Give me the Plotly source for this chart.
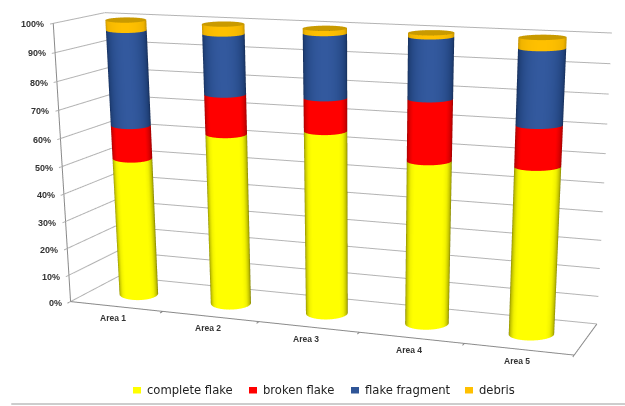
import numpy as np
import plotly.graph_objects as go

areas = ["Area 1", "Area 2", "Area 3", "Area 4", "Area 5"]
complete_flake = [51, 62, 65.3, 57.4, 58]
broken_flake = [12, 14, 11.4, 20.9, 13.7]
flake_fragment = [33.5, 20.7, 21.6, 20.4, 24.8]
debris = [3.5, 3.3, 1.7, 1.3, 3.5]
z_ticks = [0, 10, 20, 30, 40, 50, 60, 70, 80, 90, 100]

series = [
    ("complete flake", complete_flake, "#ffff00", [[0, "#6c6c00"], [0.3, "#b4b400"], [0.62, "#f2f200"], [0.78, "#ffff00"], [1, "#ffff00"]]),
    ("broken flake", broken_flake, "#ff0000", [[0, "#8c0000"], [0.35, "#c80000"], [0.7, "#ff0000"], [1, "#ff0000"]]),
    ("flake fragment", flake_fragment, "#2f5597", [[0, "#12264a"], [0.4, "#1f3f76"], [0.8, "#2c5192"], [1, "#33599e"]]),
    ("debris", debris, "#ffc000", [[0, "#b08400"], [0.5, "#f0b400"], [1, "#ffc000"]]),
]
CAP_COLOR = "#c99a00"

Y_LO = -0.06
W, H = 625, 406
FOCAL = (1 / np.tan(np.pi / 8)) * H / 2

# Oblique view: where the plot-box corners should land on the page
box_corners = np.array([[0,0,0],[5,0,0],[5,1,0],[0,1,0],[0,0,100],[0,1,100],[5,1,100]], float)
page_corners = np.array([[70,302],[574,355],[597,324],[119,276],[54,23],[104,13],[612,33]], float)

# Direct linear solve for the 3x4 projection
NORM = np.diag([1 / 5, 1, 1 / 100, 1])
rows = []
for (x, y, z), (u, v) in zip(box_corners, page_corners):
    h = np.array([x / 5, y, z / 100, 1])
    u2, v2 = (u - W / 2) / FOCAL, -(v - H / 2) / FOCAL
    rows.append(np.r_[h, 0 * h, -u2 * h])
    rows.append(np.r_[0 * h, h, -v2 * h])
P = np.linalg.svd(np.array(rows))[2][-1].reshape(3, 4) @ NORM
P = P * (1.8 / (P[2] @ np.array([2.5, 0.5, 50, 1])))

def to_plot(x, y, z):
    h = np.stack([np.asarray(x, float), np.asarray(y, float), np.asarray(z, float), np.ones_like(np.asarray(x, float))], -1)
    cam = h @ P.T
    return cam[..., 0], cam[..., 2], cam[..., 1]

def page_xy(x, y, z):
    px, py, pz = to_plot(x, y, z)
    return np.array([W / 2 + FOCAL * px / py, H / 2 - FOCAL * pz / py])

gx, gy, gz = np.meshgrid([0, 5], [Y_LO, 1], [0, 100], indexing="ij")
bx, by, bz = to_plot(gx.ravel(), gy.ravel(), gz.ravel())
x_range = [float(bx.min()), float(bx.max())]
y_range = [float(by.min()), float(by.max())]
z_range = [float(bz.min()), float(bz.max())]
box_mid = np.array([sum(x_range), sum(y_range), sum(z_range)]) / 2

fig = go.Figure()

# Cylinder footprints stay level ellipses on the page
BAR_A_FRAC, BAR_B, BAR_YC = 0.21, 6.0, 0.48
theta = np.linspace(0, 2 * np.pi, 121)
flat = dict(ambient=1, diffuse=0, specular=0, roughness=1, fresnel=0)

def footprint(xc):
    org = page_xy(xc, BAR_YC, 0.0)
    e_x = page_xy(xc + 1, BAR_YC, 0.0) - org
    e_y = page_xy(xc, BAR_YC + 1, 0.0) - org
    inv = np.linalg.inv(np.column_stack([e_x, e_y]))
    return inv @ np.vstack([BAR_A_FRAC * np.linalg.norm(e_x) * np.cos(theta), -BAR_B * np.sin(theta)])

values = np.array([s[1] for s in series], float)
tops = np.cumsum(values, axis=0)
bases = tops - values
shade = np.clip(-np.sin(theta), 0, 1)
for i in range(len(areas)):
    xc = i + 0.5
    off = footprint(xc)
    for j, (name, vals, col, scale) in enumerate(series):
        xd = np.tile(xc + off[0], (2, 1))
        yd = np.tile(BAR_YC + off[1], (2, 1))
        zd = np.array([np.full_like(theta, bases[j, i]), np.full_like(theta, tops[j, i])])
        xs, ys, zs = to_plot(xd, yd, zd)
        fig.add_trace(go.Surface(x=xs, y=ys, z=zs, surfacecolor=np.tile(shade, (2, 1)), cmin=0, cmax=1,
                                 colorscale=scale, showscale=False, hoverinfo="skip", lighting=flat))
    radial = np.array([0, 1.0])
    xd = xc + np.outer(radial, off[0])
    yd = BAR_YC + np.outer(radial, off[1])
    xs, ys, zs = to_plot(xd, yd, np.full_like(xd, tops[-1, i]))
    fig.add_trace(go.Surface(x=xs, y=ys, z=zs, surfacecolor=np.zeros_like(xs), cmin=0, cmax=1,
                             colorscale=[[0, CAP_COLOR], [1, CAP_COLOR]], showscale=False, hoverinfo="skip", lighting=flat))

def polyline(segments, color, width):
    xs, ys, zs = [], [], []
    for seg in segments:
        a = np.array(seg, float)
        px, py, pz = to_plot(a[:, 0], a[:, 1], a[:, 2])
        xs += list(px) + [None]; ys += list(py) + [None]; zs += list(pz) + [None]
    fig.add_trace(go.Scatter3d(x=xs, y=ys, z=zs, mode="lines", line=dict(color=color, width=width),
                               hoverinfo="skip", showlegend=False))

# Wall gridlines: left wall, then back wall, with outward ticks
polyline([[(0, Y_LO, t), (0, 1, t), (5, 1, t)] for t in z_ticks], "#b4b4b4", 2)

# Axis frame and category ticks
frame = [[(0, 0, 0), (0, 0, 100)], [(0, 0, 0), (5, 0, 0), (5, 1, 0)]]
frame += [[(k, 0, 0), (k, Y_LO, 0)] for k in range(len(areas) + 1)]
polyline(frame, "#8a8a8a", 2)

def tick_anchor(x, y, z):
    px, py, pz = to_plot(x, y, z)
    return dict(x=float(px), y=float(py), z=float(pz))

annots = []
for t in z_ticks:
    annots.append(dict(**tick_anchor(0, Y_LO, t), text=f"<b>{t}%</b>", showarrow=False, xanchor="right", xshift=-4,
                       font=dict(family="Liberation Sans", size=9, color="#333333")))
for i, a in enumerate(areas):
    annots.append(dict(**tick_anchor(i + 0.5, Y_LO, 0), text=f"<b>{a}</b>", showarrow=False, yshift=-10,
                       font=dict(family="Liberation Sans", size=8.5, color="#333333")))

# Legend row below the chart
legend_square_x = [133, 249, 351, 465]
shapes = [dict(type="line", xref="paper", yref="paper", x0=0.018, x1=1, y0=0.005, y1=0.005,
               line=dict(color="#bdbdbd", width=1.5))]
page_notes = []
for (name, vals, col, scale), sx in zip(series, legend_square_x):
    shapes.append(dict(type="rect", xref="paper", yref="paper", x0=sx / W, x1=(sx + 8) / W,
                       y0=1 - 393.5 / H, y1=1 - 387 / H, line=dict(width=0), fillcolor=col))
    page_notes.append(dict(xref="paper", yref="paper", x=(sx + 12) / W, y=1 - 390 / H, xanchor="left", yanchor="middle",
                           text=name, showarrow=False, font=dict(family="DejaVu Sans", size=11.6, color="#222222")))

hidden = dict(visible=False)
fig.update_layout(
    width=W, height=H, margin=dict(l=0, r=0, t=0, b=0), paper_bgcolor="white", showlegend=False,
    scene=dict(
        domain=dict(x=[0, 1], y=[0, 1]),
        xaxis=dict(range=x_range, **hidden),
        yaxis=dict(range=y_range, **hidden),
        zaxis=dict(range=z_range, **hidden),
        aspectmode="manual",
        aspectratio=dict(x=x_range[1] - x_range[0], y=y_range[1] - y_range[0], z=z_range[1] - z_range[0]),
        camera=dict(eye=dict(x=float(-box_mid[0]), y=float(-box_mid[1]), z=float(-box_mid[2])),
                    center=dict(x=float(-box_mid[0]), y=float(-box_mid[1] + 1), z=float(-box_mid[2])),
                    up=dict(x=0, y=0, z=1),
                    projection=dict(type="perspective")),
        annotations=annots,
        bgcolor="white",
    ),
    shapes=shapes,
    annotations=page_notes,
)
fig.write_html("out.html")
